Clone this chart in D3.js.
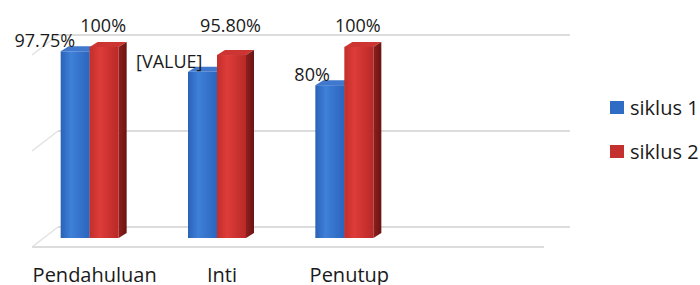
<!DOCTYPE html>
<html>
<head>
<meta charset="utf-8">
<script src="https://cdn.jsdelivr.net/npm/d3@7"></script>
<style>
  body { margin: 0; background: #fff; }
  text { font-family: "Open Sans", Lato, sans-serif; fill: #1a1a1a; }
</style>
</head>
<body>
<div id="chart"></div>
<script>
var categories = ["Pendahuluan", "Inti", "Penutup"]
var seriesNames = ["siklus 1", "siklus 2"]
var siklus1 = [97.75, 87, 80]
var siklus2 = [100, 95.8, 100]
var labels1 = ["97.75%", "[VALUE]", "80%"]
var labels2 = ["100%", "95.80%", "100%"]
var gridTicks = [0, 50, 100]

var width = 700, height = 285

var svg = d3.select("#chart").append("svg")
    .attr("width", width)
    .attr("height", height)

var defs = svg.append("defs")
function grad(id, stops) {
  var g = defs.append("linearGradient").attr("id", id)
    .attr("x1", "0%").attr("x2", "100%").attr("y1", "0%").attr("y2", "0%")
  stops.forEach(function(s) {
    g.append("stop").attr("offset", s[0]).attr("stop-color", s[1])
  })
}
grad("blueFront", [["0%", "#2a62b6"], ["35%", "#3f80d9"], ["100%", "#2b65bd"]])
grad("redFront", [["0%", "#c22e2b"], ["35%", "#de3c39"], ["100%", "#b82927"]])
grad("redSide", [["0%", "#8e1f1d"], ["100%", "#6a1413"]])

// depth of the whole plot (front -> back wall) and of one bar
var depth = [26, -20]
var barDepth = [8, -5]

// back wall scales
var yGrid = d3.scaleLinear().domain([0, 100]).range([227, 35])
var wallLeft = 58, wallRight = 570

// bars sit half way in the depth
var yBar = d3.scaleLinear().domain([0, 100]).range([238, 47])
var x0 = d3.scaleBand().domain(categories).range([26, 408])
var x1 = d3.scaleBand().domain(seriesNames).range([0, 58])

// gridlines on back wall
var grid = svg.append("g")
grid.selectAll("line.back")
  .data(gridTicks)
  .enter().append("line")
    .attr("x1", wallLeft).attr("x2", wallRight)
    .attr("y1", function(d) { return yGrid(d) })
    .attr("y2", function(d) { return yGrid(d) })
    .attr("stroke", "#dcdcdc")
    .attr("stroke-width", 2)
// gridlines on the left side wall
grid.selectAll("line.side")
  .data(gridTicks)
  .enter().append("line")
    .attr("x1", wallLeft - depth[0]).attr("x2", wallLeft)
    .attr("y1", function(d) { return yGrid(d) - depth[1] })
    .attr("y2", function(d) { return yGrid(d) })
    .attr("stroke", "#e2e2e2")
    .attr("stroke-width", 1.5)
// front edge of the floor
grid.append("line")
  .attr("x1", wallLeft - depth[0]).attr("x2", wallRight - depth[0])
  .attr("y1", yGrid(0) - depth[1]).attr("y2", yGrid(0) - depth[1])
  .attr("stroke", "#dcdcdc")
  .attr("stroke-width", 2)

// build bar data
var bars = []
categories.forEach(function(c, i) {
  bars.push({cat: c, s: "siklus 1", v: siklus1[i], label: labels1[i]})
  bars.push({cat: c, s: "siklus 2", v: siklus2[i], label: labels2[i]})
})

function bx(d) { return x0(d.cat) + x0.bandwidth() / 2 - x1.bandwidth() + x1(d.s) }

var barG = svg.append("g").selectAll("g")
  .data(bars)
  .enter().append("g")

// top face
barG.append("path")
  .attr("d", function(d) {
    var x = bx(d), w = x1.bandwidth(), y = yBar(d.v)
    return "M" + x + "," + y + "L" + (x + barDepth[0]) + "," + (y + barDepth[1]) +
      "L" + (x + w + barDepth[0]) + "," + (y + barDepth[1]) + "L" + (x + w) + "," + y + "Z"
  })
  .attr("fill", function(d) { return d.s == "siklus 1" ? "#3f78cc" : "#cc3532" })
// side face
barG.append("path")
  .attr("d", function(d) {
    var x = bx(d) + x1.bandwidth(), y = yBar(d.v), y0 = yBar(0)
    return "M" + x + "," + y + "L" + (x + barDepth[0]) + "," + (y + barDepth[1]) +
      "L" + (x + barDepth[0]) + "," + (y0 + barDepth[1]) + "L" + x + "," + y0 + "Z"
  })
  .attr("fill", function(d) { return d.s == "siklus 1" ? "#1f4f95" : "url(#redSide)" })
// front face
barG.append("rect")
  .attr("x", bx)
  .attr("y", function(d) { return yBar(d.v) })
  .attr("width", x1.bandwidth())
  .attr("height", function(d) { return yBar(0) - yBar(d.v) })
  .attr("fill", function(d) { return d.s == "siklus 1" ? "url(#blueFront)" : "url(#redFront)" })

// value labels
svg.append("g").selectAll("text")
  .data(bars)
  .enter().append("text")
    .attr("font-size", 18)
    .attr("x", function(d) {
      return d.s == "siklus 1" ? bx(d) + x1.bandwidth() / 2 : bx(d) + x1.bandwidth() / 2 - 1
    })
    .attr("y", function(d) {
      return d.s == "siklus 1" ? yBar(d.v) - 4 : yBar(100) - 15
    })
    .attr("text-anchor", function(d) { return d.s == "siklus 1" ? "end" : "middle" })
    .text(function(d) { return d.label })

// category labels
svg.append("g").selectAll("text")
  .data(categories)
  .enter().append("text")
    .attr("font-size", 20)
    .attr("x", function(d) { return x0(d) + x0.bandwidth() / 2 + 5 })
    .attr("y", 282)
    .attr("text-anchor", "middle")
    .text(function(d) { return d })

// legend
var color = d3.scaleOrdinal().domain(seriesNames).range(["#2f6cc4", "#c3302e"])
var legend = svg.append("g").selectAll("g")
  .data(seriesNames)
  .enter().append("g")
    .attr("transform", function(d, i) { return "translate(610," + (101 + i * 44) + ")" })
legend.append("rect")
  .attr("width", 14).attr("height", 13)
  .attr("fill", function(d) { return color(d) })
legend.append("text")
  .attr("x", 20).attr("y", 14)
  .attr("font-size", 20)
  .text(function(d) { return d })
</script>
</body>
</html>
